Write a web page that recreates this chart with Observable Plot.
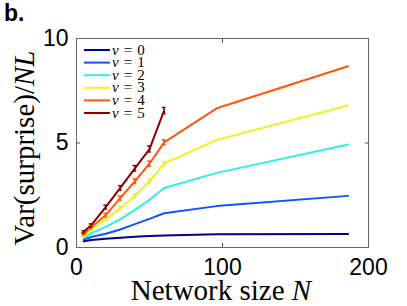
<!DOCTYPE html>
<html>
<head>
<meta charset="utf-8">
<script src="https://cdn.jsdelivr.net/npm/d3@7"></script>
<script src="https://cdn.jsdelivr.net/npm/@observablehq/plot@0.6"></script>
<style>
  html, body { margin: 0; padding: 0; background: white; }
</style>
</head>
<body>
<div id="chart"></div>
<script>
// ---- data ----
const networkSize = [5, 10, 20, 30, 40, 50, 60, 96, 186];
const seriesLabels = ["v = 0", "v = 1", "v = 2", "v = 3", "v = 4", "v = 5"];
const seriesColors = ["#00008c", "#0a55ff", "#2cf2e4", "#e8f41e", "#ff560c", "#8c0000"];
const v0 = [0.30, 0.36, 0.42, 0.47, 0.51, 0.55, 0.58, 0.63, 0.65];
const v1 = [0.38, 0.50, 0.66, 0.86, 1.12, 1.37, 1.64, 1.98, 2.47];
const v2 = [0.46, 0.68, 0.99, 1.36, 1.80, 2.28, 2.85, 3.57, 4.93];
const v3 = [0.55, 0.85, 1.34, 1.88, 2.48, 3.17, 4.01, 5.15, 6.79];
const v4 = [0.65, 0.96, 1.55, 2.36, 3.17, 4.01, 5.03, 6.66, 8.67];
const v5 = [0.75, 1.06, 1.93, 2.85, 3.79, 4.71, 6.55];
const err3 = [0.04, 0.05, 0.07, 0.08, 0.09, 0.10, 0.10];
const err4 = [0.04, 0.06, 0.08, 0.10, 0.11, 0.12, 0.12];
const err5 = [0.05, 0.07, 0.09, 0.11, 0.13, 0.14, 0.15];
const xTicks = [0, 100, 200];
const yTicks = [0, 5, 10];

const allSeries = [v0, v1, v2, v3, v4, v5];
const allErr = [null, null, null, err3, err4, err5];
const rows = [];
allSeries.forEach((vals, s) => {
  vals.forEach((y, i) => {
    const e = allErr[s] && i < allErr[s].length ? allErr[s][i] : 0;
    rows.push({N: networkSize[i], y, s: seriesLabels[s], e});
  });
});
const errRows = rows.filter(d => d.e > 0);
const capW = 1.3;

const chart = Plot.plot({
  width: 407,
  height: 306,
  marginLeft: 76,
  marginRight: 39,
  marginTop: 38,
  marginBottom: 59,
  style: {fontFamily: "'Liberation Sans', Arial, sans-serif", fontSize: "23px", background: "white", color: "black", overflow: "visible"},
  x: {domain: [0, 200]},
  y: {domain: [0, 10]},
  color: {domain: seriesLabels, range: seriesColors},
  marks: [
    Plot.axisX({anchor: "bottom", ticks: xTicks, tickSize: -4, tickPadding: 15, label: null, stroke: "#555", fill: "black"}),
    Plot.axisX({anchor: "top", ticks: xTicks, tickSize: -4, tickFormat: () => "", label: null, stroke: "#555"}),
    Plot.axisY({anchor: "left", ticks: yTicks, tickSize: -4, tickPadding: 12, label: null, stroke: "#555", fill: "black"}),
    Plot.axisY({anchor: "right", ticks: yTicks, tickSize: -4, tickFormat: () => "", label: null, stroke: "#555"}),
    Plot.line(rows, {x: "N", y: "y", z: "s", stroke: "s", strokeWidth: 2}),
    Plot.ruleX(errRows, {x: "N", y1: d => d.y - d.e, y2: d => d.y + d.e, stroke: "s", strokeWidth: 1.5}),
    Plot.ruleY(errRows, {y: d => d.y + d.e, x1: d => d.N - capW, x2: d => d.N + capW, stroke: "s", strokeWidth: 1.5}),
    Plot.ruleY(errRows, {y: d => d.y - d.e, x1: d => d.N - capW, x2: d => d.N + capW, stroke: "s", strokeWidth: 1.5}),
    Plot.frame({stroke: "#666", strokeWidth: 1})
  ]
});

document.getElementById("chart").appendChild(chart);

// ---- annotation text (labels with math italic) ----
const svg = d3.select(chart);
const serif = "'Liberation Serif', 'Times New Roman', serif";

svg.append("text")
  .attr("x", 4).attr("y", 21)
  .attr("text-anchor", "start")
  .attr("font-family", "'Liberation Sans', Arial, sans-serif")
  .attr("font-weight", "bold").attr("font-size", 23)
  .text("b.");

const xl = svg.append("text")
  .attr("x", 221).attr("y", 300)
  .attr("text-anchor", "middle")
  .attr("font-family", serif).attr("font-size", 29);
xl.append("tspan").text("Network size ");
xl.append("tspan").attr("font-style", "italic").text("N");

const yl = svg.append("text")
  .attr("transform", "translate(34,148) rotate(-90)")
  .attr("text-anchor", "middle")
  .attr("font-family", serif).attr("font-size", 29);
yl.append("tspan").text("Var(surprise)/");
yl.append("tspan").attr("font-style", "italic").text("NL");

// legend
const lg = svg.append("g");
seriesLabels.forEach((lab, i) => {
  const y = 50 + i * 12.6;
  lg.append("line").attr("x1", 84).attr("x2", 110).attr("y1", y).attr("y2", y)
    .attr("stroke", seriesColors[i]).attr("stroke-width", 2);
  const t = lg.append("text").attr("x", 112).attr("y", y + 4.5)
    .attr("text-anchor", "start")
    .attr("font-family", serif).attr("font-size", 15);
  t.append("tspan").attr("font-style", "italic").text("v");
  t.append("tspan").attr("dx", 5).text("=");
  t.append("tspan").attr("dx", 5).text(String(i));
});
</script>
</body>
</html>
